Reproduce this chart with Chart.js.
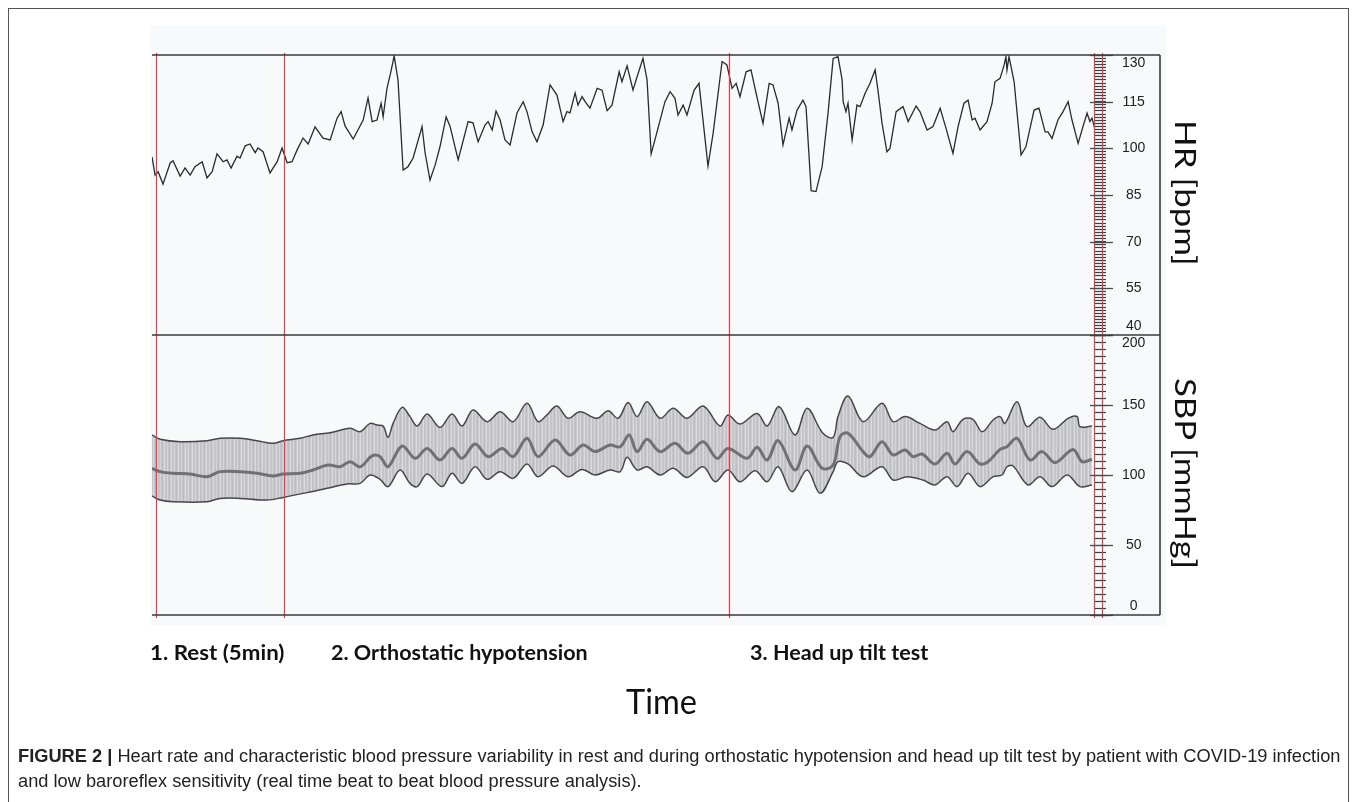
<!DOCTYPE html>
<html>
<head>
<meta charset="utf-8">
<script src="https://cdn.jsdelivr.net/npm/chart.js@4.4.1/dist/chart.umd.min.js"></script>
<style>
  body { margin: 0; background: #fff; width: 1357px; height: 802px; overflow: hidden; position: relative; }
  #frame { position: absolute; left: 8px; top: 8px; width: 1339px; height: 810px; border: 1.5px solid #555; }
  #scan { position: absolute; left: 150px; top: 25px; width: 1016px; height: 600px; background: #f8f9fb; }
  canvas { position: absolute; left: 0; top: 0; }
  .txt { position: absolute; white-space: nowrap; line-height: 1; transform-origin: left top; color: #111; }
  .phase { font-family: Lato, "Open Sans", sans-serif; font-weight: bold; font-size: 20px; }
  .title { font-family: Lato, "Open Sans", sans-serif; font-size: 34px; }
  .side { font-family: Lato, "Open Sans", sans-serif; font-size: 28px; }
  .cap { font-family: "Liberation Sans Narrow", "Liberation Sans", Arial, sans-serif; font-size: 17.5px; color: #222; }
  .cap b { font-weight: bold; }
</style>
</head>
<body>
<div id="frame"></div>
<div id="scan"></div>
<canvas id="chart" width="1357" height="802"></canvas>

<div class="txt phase" style="left:150px; top:642px" data-w="135">1. Rest (5min)</div>
<div class="txt phase" style="left:331px; top:642px" data-w="257">2. Orthostatic hypotension</div>
<div class="txt phase" style="left:750px; top:642px" data-w="178">3. Head up tilt test</div>
<div class="txt title" style="left:626px; top:684px" data-w="71">Time</div>
<div class="txt side" style="left:1199px; top:120px" data-w="146" data-rot="1">HR [bpm]</div>
<div class="txt side" style="left:1199px; top:378px" data-w="191" data-rot="1">SBP [mmHg]</div>
<div class="txt cap" id="cap1" style="left:18px; top:748px"><b>FIGURE 2 |</b> Heart rate and characteristic blood pressure variability in rest and during orthostatic hypotension and head up tilt test by patient with COVID-19 infection</div>
<div class="txt cap" id="cap2" style="left:18px; top:773px">and low baroreflex sensitivity (real time beat to beat blood pressure analysis).</div>

<script>
// time in minutes from the start of the rest phase
const hrTime = [-0.16, -0.04, 0.08, 0.27, 0.55, 0.66, 0.94, 1.13, 1.33, 1.52,
  1.80, 1.99, 2.19, 2.38, 2.62, 2.77, 2.93, 3.16, 3.28, 3.48,
  3.67, 3.87, 3.98, 4.18, 4.45, 4.73, 4.92, 5.12, 5.31, 5.51,
  5.74, 5.94, 6.21, 6.52, 6.80, 7.07, 7.23, 7.38, 7.70, 8.09,
  8.28, 8.44, 8.63, 8.79, 8.87, 9.02, 9.18, 9.30, 9.45, 9.65,
  9.84, 10.04, 10.39, 10.51, 10.70, 10.90, 11.09, 11.33, 11.48, 11.80,
  12.19, 12.38, 12.58, 12.85, 12.97, 13.13, 13.28, 13.44, 13.63, 13.83,
  14.10, 14.34, 14.49, 14.69, 14.88, 15.12, 15.39, 15.66, 15.90, 16.05,
  16.17, 16.37, 16.48, 16.64, 16.76, 16.95, 17.23, 17.42, 17.62, 17.81,
  18.09, 18.20, 18.40, 18.63, 18.79, 19.02, 19.18, 19.34, 19.57, 19.88,
  20.08, 20.27, 20.39, 20.59, 20.74, 21.02, 21.21, 21.56, 21.76, 22.11,
  22.30, 22.50, 22.66, 22.81, 23.05, 23.24, 23.44, 23.71, 23.95, 24.10,
  24.30, 24.49, 24.73, 24.84, 25.04, 25.27, 25.39, 25.59, 25.78, 26.02,
  26.25, 26.45, 26.64, 26.80, 26.84, 26.95, 27.03, 27.19, 27.38, 27.50,
  27.70, 27.89, 28.09, 28.20, 28.36, 28.55, 28.67, 28.91, 29.18, 29.38,
  29.69, 29.84, 30.12, 30.35, 30.63, 30.86, 31.13, 31.33, 31.56, 31.72,
  31.88, 31.99, 32.19, 32.46, 32.66, 32.77, 32.97, 33.13, 33.20, 33.24,
  33.32, 33.52, 33.79, 33.98, 34.30, 34.49, 34.73, 34.84, 35.00, 35.23,
  35.43, 35.63, 35.78, 36.02, 36.21, 36.37, 36.48, 36.56, 36.68];
const hrValues = [97.3, 91.4, 92.5, 88.5, 95.3, 96.0, 91.1, 93.7, 91.4, 94.1,
  95.7, 90.5, 92.5, 98.2, 95.7, 96.3, 93.7, 97.5, 96.9, 100.8,
  101.4, 98.6, 100.1, 98.9, 92.1, 95.7, 100.1, 95.4, 95.7, 99.5,
  103.3, 101.4, 106.9, 103.3, 102.7, 109.7, 111.8, 107.2, 103.0, 109.1,
  116.2, 108.6, 109.1, 114.5, 110.2, 119.3, 124.9, 129.7, 122.0, 93.0,
  94.1, 96.9, 107.0, 98.5, 89.8, 94.6, 100.5, 110.1, 107.2, 96.3,
  108.6, 108.2, 102.1, 107.5, 108.6, 105.9, 112.0, 109.1, 102.7, 101.1,
  111.4, 115.0, 111.8, 105.3, 102.1, 107.5, 120.4, 117.1, 108.6, 111.8,
  111.4, 117.8, 113.9, 116.6, 115.0, 112.9, 119.3, 118.7, 112.1, 113.9,
  124.6, 121.4, 126.5, 118.7, 123.0, 128.9, 122.0, 98.2, 105.3, 115.0,
  118.2, 116.1, 110.7, 113.9, 110.7, 118.7, 120.9, 94.3, 104.8, 127.9,
  126.8, 119.3, 120.9, 116.6, 124.6, 125.2, 117.7, 108.0, 120.9, 120.4,
  114.5, 101.1, 109.7, 105.9, 112.3, 115.5, 113.4, 86.4, 86.1, 94.1,
  111.3, 128.9, 129.5, 122.0, 115.0, 111.8, 114.5, 102.7, 113.9, 113.4,
  117.7, 120.9, 125.2, 118.7, 108.0, 98.9, 100.0, 111.8, 113.4, 108.6,
  113.6, 111.8, 105.9, 107.0, 112.9, 106.4, 98.4, 107.0, 114.5, 115.5,
  109.1, 109.7, 105.9, 108.6, 114.5, 121.4, 122.5, 126.8, 129.5, 125.2,
  129.5, 121.4, 97.9, 100.5, 112.3, 112.9, 105.3, 105.3, 103.2, 109.1,
  111.8, 115.0, 109.1, 101.6, 107.0, 111.3, 108.6, 109.7, 106.1];

const sbpUpperTime = [-0.16, 0.16, 0.94, 1.99, 2.50, 3.28, 3.95, 4.57, 4.96, 5.63,
  6.13, 6.80, 7.58, 7.97, 8.36, 8.63, 8.87, 9.06, 9.26, 9.61,
  9.92, 10.20, 10.59, 11.09, 11.56, 11.95, 12.38, 12.93, 13.44, 13.95,
  14.49, 14.92, 15.27, 15.66, 16.09, 16.56, 17.23, 17.66, 18.05, 18.44,
  18.79, 19.18, 19.69, 20.20, 20.74, 21.37, 22.03, 22.34, 22.81, 23.48,
  23.87, 24.34, 24.96, 25.43, 26.05, 26.45, 26.64, 27.03, 27.62, 28.36,
  28.79, 29.26, 29.84, 30.43, 30.90, 31.13, 31.52, 31.91, 32.27, 32.70,
  32.97, 33.16, 33.63, 34.02, 34.53, 35.04, 35.63, 35.98, 36.09, 36.56];
const sbpUpper = [128.6, 125.5, 123.8, 124.5, 126.2, 126.2, 124.5, 122.6, 124.5, 126.2,
  128.6, 130.2, 133.4, 130.9, 136.9, 135.7, 135.0, 126.9, 136.9, 148.3,
  141.7, 135.0, 143.6, 134.0, 143.6, 135.0, 146.4, 138.1, 145.2, 138.1,
  151.2, 138.1, 142.9, 149.3, 140.5, 145.2, 140.5, 145.9, 140.5, 151.7,
  141.7, 152.4, 140.5, 147.6, 140.5, 149.3, 135.0, 142.9, 136.4, 144.0,
  135.0, 148.8, 128.6, 147.6, 129.8, 126.9, 141.7, 156.4, 138.1, 151.2,
  138.1, 141.7, 136.9, 132.1, 138.1, 130.9, 139.8, 139.8, 130.9, 139.3,
  141.7, 136.9, 152.4, 134.5, 141.2, 132.6, 140.5, 141.7, 134.5, 135.0];

const sbpMeanTime = [-0.16, 0.16, 0.66, 1.33, 1.99, 2.50, 3.28, 3.95, 4.57, 4.96,
  5.63, 6.13, 6.72, 7.19, 7.58, 7.97, 8.44, 8.75, 9.06, 9.61,
  10.12, 10.59, 11.09, 11.56, 11.95, 12.46, 12.97, 13.52, 13.95, 14.49,
  14.92, 15.59, 16.17, 16.68, 17.15, 17.73, 18.13, 18.48, 18.79, 19.18,
  19.69, 20.27, 20.78, 21.37, 21.91, 22.34, 23.09, 23.48, 23.87, 24.30,
  24.96, 25.43, 26.02, 26.45, 26.72, 27.03, 27.62, 27.89, 28.36, 28.79,
  29.26, 29.57, 29.92, 30.43, 30.90, 31.21, 31.68, 32.19, 32.50, 32.97,
  33.24, 33.63, 34.14, 34.61, 35.12, 35.82, 36.17, 36.56];
const sbpMean = [104.8, 102.4, 101.2, 100.7, 98.8, 102.4, 102.4, 101.2, 99.3, 100.7,
  101.2, 103.6, 107.1, 105.9, 109.5, 105.9, 113.6, 113.1, 105.9, 120.7,
  111.9, 119.0, 110.7, 119.0, 111.9, 122.1, 113.1, 119.0, 113.1, 126.2,
  113.1, 125.0, 114.3, 121.4, 116.7, 121.4, 120.2, 128.6, 116.7, 125.5,
  116.7, 122.6, 115.5, 123.8, 111.9, 119.0, 111.9, 119.8, 110.7, 124.5,
  103.6, 120.7, 104.8, 107.1, 127.4, 129.8, 116.7, 113.1, 123.8, 114.3,
  117.9, 113.1, 115.0, 107.9, 115.5, 107.9, 116.7, 107.9, 109.5, 118.3,
  120.2, 126.2, 110.7, 116.7, 108.8, 118.3, 109.5, 111.2];

const sbpLowerTime = [-0.16, 0.16, 0.66, 1.99, 2.50, 3.28, 4.34, 4.96, 5.90, 6.68,
  7.46, 7.97, 8.36, 8.75, 9.06, 9.53, 9.92, 10.20, 10.59, 11.17,
  11.56, 11.95, 12.46, 12.93, 13.44, 13.95, 14.49, 14.92, 15.51, 16.09,
  16.64, 17.15, 17.73, 18.13, 18.40, 18.79, 19.18, 19.69, 20.20, 20.74,
  21.37, 21.84, 22.34, 22.81, 23.40, 23.87, 24.30, 24.84, 25.43, 25.94,
  26.45, 26.64, 27.03, 27.62, 28.36, 28.79, 29.34, 29.96, 30.43, 30.90,
  31.29, 31.72, 32.19, 32.70, 33.05, 33.24, 33.48, 34.06, 34.53, 35.00,
  35.59, 36.09, 36.56];
const sbpLower = [85.0, 82.1, 80.9, 80.9, 83.3, 83.3, 82.1, 84.0, 87.4, 90.5,
  93.6, 94.0, 100.0, 96.9, 91.7, 103.6, 94.0, 91.7, 100.7, 91.7,
  101.2, 94.0, 105.9, 96.9, 102.4, 97.6, 107.9, 98.8, 106.5, 98.8,
  104.0, 100.0, 103.6, 102.4, 112.6, 103.6, 105.9, 100.0, 104.8, 98.3,
  105.9, 95.2, 103.6, 95.2, 103.1, 95.2, 105.9, 88.1, 103.6, 86.9,
  102.4, 109.5, 107.9, 98.8, 105.9, 96.4, 98.8, 96.4, 92.9, 98.8,
  91.7, 101.2, 91.7, 98.8, 100.0, 105.9, 106.4, 92.9, 98.8, 91.7,
  100.0, 91.7, 92.9];

const hrTicks = [40, 55, 70, 85, 100, 115, 130];
const sbpTicks = [0, 50, 100, 150, 200];
const markerTimes = [0, 5, 22.38, 36.64, 36.95];

function pts(t, v) {
  return t.map((x, i) => ({ x: x, y: v[i] }));
}

// grey band with faint vertical streaks like the printout
function hatch() {
  const c = document.createElement('canvas');
  c.width = 7; c.height = 4;
  const g = c.getContext('2d');
  ['#c4c4c9', '#bdbdc2', '#cbcbcf', '#dcdce0', '#c1c1c6', '#c7c7cb', '#d4d4d8']
    .forEach((col, i) => { g.fillStyle = col; g.fillRect(i, 0, 1, 4); });
  return g.createPattern(c, 'repeat');
}

// only the major values get a label; the end ones are nudged inside the panel
function tickLabel(majors) {
  return function (v) {
    if (!majors.includes(v)) return '';
    if (v === majors[majors.length - 1]) return ['', String(v)];
    if (v === majors[0]) return [String(v), ''];
    return String(v);
  };
}

function yAxis(min, max, step, majors) {
  return {
    type: 'linear', position: 'right', stack: 'panels', stackWeight: 1,
    min: min, max: max,
    border: { display: false },
    grid: { drawOnChartArea: false, drawTicks: true, tickLength: 12, tickColor: '#3c3c44', tickWidth: 1.2 },
    ticks: {
      stepSize: step, autoSkip: false, padding: 16, crossAlign: 'center',
      color: '#222', font: { family: '"Liberation Sans", Arial, sans-serif', size: 14 },
      callback: tickLabel(majors)
    },
    afterFit: function (s) { s.width = 66; }
  };
}

const panelPlugin = {
  id: 'panels',
  afterDraw(chart) {
    const ctx = chart.ctx;
    const area = chart.chartArea;
    const x = chart.scales.x;
    const hr = chart.scales.yHR;
    const sbp = chart.scales.ySBP;
    const right = hr.right;
    ctx.save();

    // red phase markers
    ctx.strokeStyle = '#d9424c';
    ctx.lineWidth = 1.2;
    markerTimes.forEach(t => {
      const px = Math.round(x.getPixelForValue(t)) + 0.5;
      ctx.beginPath();
      ctx.moveTo(px, area.top - 2);
      ctx.lineTo(px, area.bottom + 3);
      ctx.stroke();
    });

    // long ticks at the labelled values
    ctx.strokeStyle = '#4a4a52';
    ctx.lineWidth = 1.3;
    [[hr, hrTicks], [sbp, sbpTicks]].forEach(([s, vals]) => {
      vals.forEach(v => {
        const y = Math.round(s.getPixelForValue(v)) + 0.5;
        ctx.beginPath();
        ctx.moveTo(s.left - 4, y);
        ctx.lineTo(s.left + 19, y);
        ctx.stroke();
      });
    });

    // panel frame
    ctx.strokeStyle = '#3a3a3a';
    ctx.lineWidth = 1.6;
    [area.top, hr.bottom, area.bottom].forEach(y => {
      ctx.beginPath();
      ctx.moveTo(area.left, y);
      ctx.lineTo(right, y);
      ctx.stroke();
    });
    ctx.beginPath();
    ctx.moveTo(right, area.top);
    ctx.lineTo(right, area.bottom);
    ctx.stroke();
    ctx.restore();
  }
};

const ctx = document.getElementById('chart').getContext('2d');
new Chart(ctx, {
  type: 'line',
  data: {
    datasets: [
      {
        label: 'HR', yAxisID: 'yHR', data: pts(hrTime, hrValues),
        borderColor: '#2a2a2e', borderWidth: 1.3, tension: 0, fill: false
      },
      {
        label: 'SBP low', yAxisID: 'ySBP', data: pts(sbpLowerTime, sbpLower),
        borderColor: '#46464b', borderWidth: 1.5, tension: 0.35, fill: false
      },
      {
        label: 'SBP high', yAxisID: 'ySBP', data: pts(sbpUpperTime, sbpUpper),
        borderColor: '#46464b', borderWidth: 1.5, tension: 0.35,
        fill: '-1', backgroundColor: hatch()
      },
      {
        label: 'SBP mean', yAxisID: 'ySBP', data: pts(sbpMeanTime, sbpMean),
        borderColor: '#707075', borderWidth: 3, tension: 0.35, fill: false
      }
    ]
  },
  options: {
    responsive: false,
    animation: false,
    layout: { padding: { left: 152, top: 55, right: 197, bottom: 187 } },
    elements: { point: { radius: 0 } },
    plugins: {
      legend: { display: false },
      tooltip: { enabled: false },
      filler: { drawTime: 'beforeDatasetsDraw' }
    },
    scales: {
      x: { type: 'linear', display: false, min: -0.16, max: 36.64 },
      yHR: yAxis(40, 130, 1, hrTicks),
      ySBP: yAxis(0, 200, 5, sbpTicks)
    }
  },
  plugins: [panelPlugin]
});

// squeeze the text to the widths seen in the figure
document.querySelectorAll('[data-w]').forEach(el => {
  const r = Number(el.dataset.w) / el.offsetWidth;
  if (el.dataset.rot) {
    el.style.left = (1186 + el.offsetHeight / 2) + 'px';
    el.style.transform = 'rotate(90deg) scaleX(' + r + ')';
  } else {
    el.style.transform = 'scaleX(' + r + ')';
  }
});
const cap1 = document.getElementById('cap1');
const capScale = 1322 / cap1.offsetWidth;
cap1.style.transform = 'scaleX(' + capScale + ')';
document.getElementById('cap2').style.transform = 'scaleX(' + capScale + ')';
</script>
</body>
</html>
